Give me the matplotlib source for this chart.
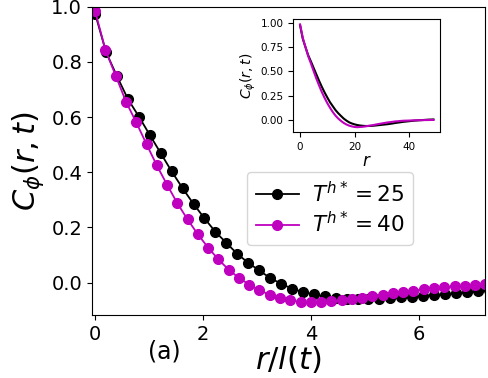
import matplotlib
matplotlib.use("Agg")
import numpy as np
import matplotlib.pyplot as plt

# correlation C(r,t) vs lattice distance r, for the two quench temperatures
r_vals = list(range(50))
C_25 = [0.975, 0.835, 0.748, 0.665, 0.602, 0.535, 0.469, 0.403, 0.342, 0.285,
        0.233, 0.184, 0.144, 0.104, 0.072, 0.044, 0.017, -0.004, -0.022, -0.034,
        -0.043, -0.050, -0.055, -0.058, -0.060, -0.060, -0.059, -0.057, -0.054, -0.051,
        -0.048, -0.045, -0.042, -0.038, -0.034, -0.029, -0.025, -0.021, -0.017, -0.014,
        -0.011, -0.008, -0.005, -0.003, -0.001, 0.001, 0.003, 0.005, 0.006, 0.007]
C_40 = [0.983, 0.844, 0.750, 0.656, 0.581, 0.502, 0.425, 0.355, 0.288, 0.229,
        0.175, 0.127, 0.084, 0.047, 0.017, -0.007, -0.028, -0.044, -0.056, -0.064,
        -0.070, -0.072, -0.070, -0.068, -0.064, -0.059, -0.055, -0.050, -0.044, -0.039,
        -0.034, -0.029, -0.024, -0.021, -0.017, -0.013, -0.011, -0.008, -0.006, -0.005,
        -0.004, -0.003, -0.002, -0.001, 0.000, 0.000, 0.001, 0.001, 0.002, 0.002]

# domain length l(t) for each temperature
l_25 = 4.94
l_40 = 5.26

labels = [r'$T^{h*} = 25$', r'$T^{h*} = 40$']
colors = ['k', 'm']

fig = plt.figure(figsize=(4.89, 3.78), dpi=100)
ax = fig.add_axes([0.188, 0.167, 0.804, 0.815])

r = np.array(r_vals, dtype=float)
ax.plot(r / l_25, C_25, '-o', color=colors[0], ms=7, lw=1.3, label=labels[0])
ax.plot(r / l_40, C_40, '-o', color=colors[1], ms=7, lw=1.3, label=labels[1])

ax.set_xlim(-0.06, 7.22)
ax.set_ylim(-0.117, 1.0)
ax.set_xticks([0, 2, 4, 6])
ax.set_yticks([0.0, 0.2, 0.4, 0.6, 0.8, 1.0])
ax.tick_params(labelsize=14)
ax.set_xlabel(r'$r/l(t)$', fontsize=22, labelpad=0)
ax.set_ylabel(r'$C_\phi(r,t)$', fontsize=22, labelpad=4)
fig.text(0.335, 0.07, '(a)', fontsize=17, ha='center', va='center')

ax.legend(loc='upper left', bbox_to_anchor=(0.505, 0.545), bbox_transform=fig.transFigure,
          borderaxespad=0, fontsize=15.5, handlelength=2.0, handletextpad=0.6,
          labelspacing=0.25)

# inset with the raw distance r
ins = fig.add_axes([0.600, 0.650, 0.300, 0.299])
ins.plot(r_vals, C_25, color=colors[0], lw=1.5)
ins.plot(r_vals, C_40, color=colors[1], lw=1.5)
ins.set_xticks([0, 20, 40])
ins.set_yticks([0.0, 0.25, 0.5, 0.75, 1.0])
ins.tick_params(labelsize=7.5)
ins.set_xlabel(r'$r$', fontsize=12, labelpad=0)
ins.set_ylabel(r'$C_\phi(r,t)$', fontsize=10, labelpad=2)

fig.savefig('out.png', dpi=100)
